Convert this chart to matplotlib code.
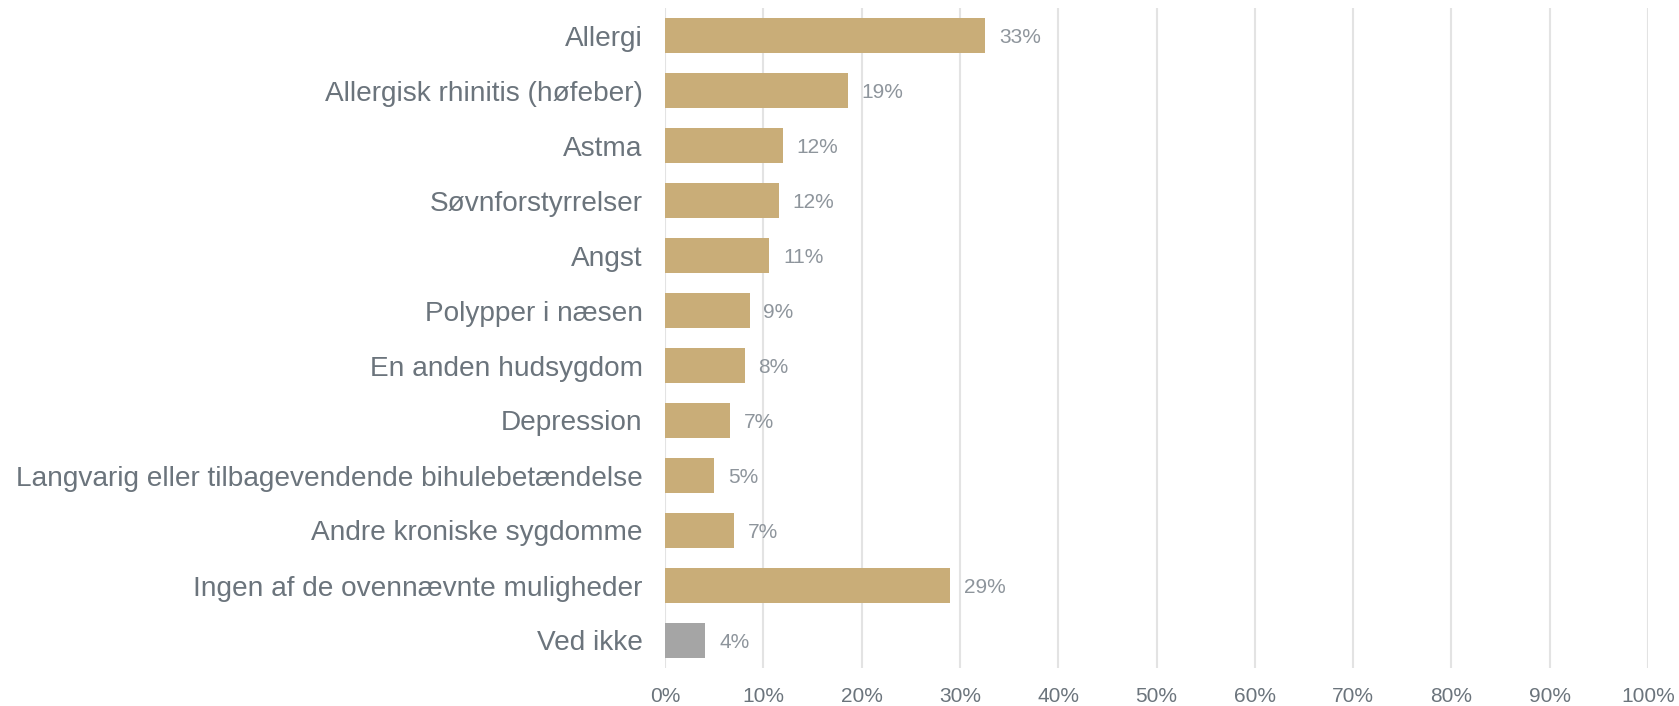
import matplotlib
matplotlib.use("Agg")
import matplotlib.pyplot as plt
from matplotlib.ticker import FuncFormatter, MultipleLocator

categories = [
    "Allergi",
    "Allergisk rhinitis (høfeber)",
    "Astma",
    "Søvnforstyrrelser",
    "Angst",
    "Polypper i næsen",
    "En anden hudsygdom",
    "Depression",
    "Langvarig eller tilbagevendende bihulebetændelse",
    "Andre kroniske sygdomme",
    "Ingen af de ovennævnte muligheder",
    "Ved ikke",
]
values = [32.6, 18.6, 12.0, 11.6, 10.6, 8.6, 8.1, 6.6, 5.0, 7.0, 29.0, 4.1]
value_labels = ["33%", "19%", "12%", "12%", "11%", "9%", "8%", "7%", "5%", "7%", "29%", "4%"]
colors = ["#C9AD78"] * 11 + ["#A5A5A5"]

plt.rcParams["font.family"] = ["Liberation Sans", "DejaVu Sans"]

fig = plt.figure(figsize=(16.79, 7.06), dpi=100)
ax = fig.add_axes([665 / 1679, 1 - 668 / 706, (1648 - 665) / 1679, 660 / 706])

y = list(range(len(categories)))
ax.barh(y, values, height=0.62, color=colors, zorder=3)
for yi, v, lab in zip(y, values, value_labels):
    ax.text(v + 1.4, yi, lab, va="center_baseline", ha="left", fontsize=15, color="#8E959C")

ax.set_xlim(0, 100)
ax.set_ylim(len(categories) - 0.5, -0.5)
ax.xaxis.set_major_locator(MultipleLocator(10))
ax.xaxis.set_major_formatter(FuncFormatter(lambda x, p: f"{x:.0f}%"))
ax.set_yticks(y)
ax.set_yticklabels(categories, fontsize=20.2, color="#6B747C")
ax.tick_params(axis="y", length=0, pad=16)
ax.tick_params(axis="x", length=0, pad=14, labelsize=15, labelcolor="#6B747C")
ax.grid(axis="x", color="#E3E3E3", linewidth=1.5, zorder=0)
for s in ax.spines.values():
    s.set_visible(False)

fig.savefig("out.png", dpi=100)
